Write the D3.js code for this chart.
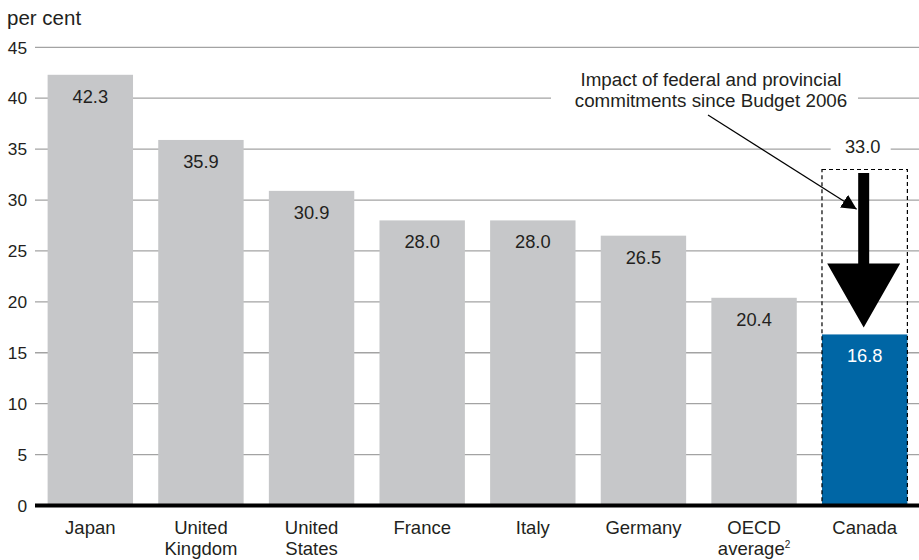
<!DOCTYPE html>
<html lang="en">
<head>
    <meta charset="UTF-8">
    <title>Per cent chart</title>
    <script src="https://d3js.org/d3.v7.min.js"></script>
    <style>
        body { margin: 0; background: #fff; }
        text { font-family: "Liberation Sans", Arial, Helvetica, sans-serif; fill: #231f20; }
        .grid line { stroke: #a3a3a3; stroke-width: 1.3px; }
        .tick-label { font-size: 17.3px; }
        .bar-label { font-size: 18.3px; text-anchor: middle; }
        .cat-label { font-size: 18.5px; text-anchor: middle; }
        .note { font-size: 18.8px; text-anchor: middle; }
    </style>
</head>
<body>
    <div id="chart"></div>
    <script>
        // data
        const countries = ["Japan", "United Kingdom", "United States", "France", "Italy", "Germany", "OECD average", "Canada"];
        const values = [42.3, 35.9, 30.9, 28.0, 28.0, 26.5, 20.4, 16.8];
        const labelLines = [["Japan"], ["United", "Kingdom"], ["United", "States"], ["France"], ["Italy"], ["Germany"], ["OECD", "average"], ["Canada"]];
        const yTicks = [0, 5, 10, 15, 20, 25, 30, 35, 40, 45];
        const canadaBefore = 33.0;   // level before the commitments
        const noteLines = ["Impact of federal and provincial", "commitments since Budget 2006"];

        const width = 919, height = 560;

        const svg = d3.select("#chart").append("svg")
            .attr("width", width)
            .attr("height", height);

        const x = d3.scaleBand()
            .domain(countries)
            .range([35, 920])
            .paddingInner(0.228)
            .paddingOuter(0.114);

        const y = d3.scaleLinear()
            .domain([0, 45])
            .range([505.5, 47.3]);

        // gridlines
        svg.append("g")
            .attr("class", "grid")
            .selectAll("line")
            .data(yTicks.filter(d => d > 0))
            .enter().append("line")
              .attr("x1", 35)
              .attr("x2", width)
              .attr("y1", d => y(d))
              .attr("y2", d => y(d));

        // y tick labels
        svg.append("g")
            .selectAll("text")
            .data(yTicks)
            .enter().append("text")
              .attr("class", "tick-label")
              .attr("x", 27)
              .attr("y", d => y(d))
              .attr("dy", "0.36em")
              .attr("text-anchor", "end")
              .text(d => d);

        svg.append("text")
            .attr("x", 7)
            .attr("y", 25)
            .style("font-size", "20.5px")
            .text("per cent");

        // white knock-outs behind annotation texts
        svg.append("rect")
            .attr("x", 551).attr("y", 66)
            .attr("width", 307).attr("height", 46)
            .attr("fill", "#fff");

        const cx = x("Canada") + x.bandwidth() / 2;
        svg.append("rect")
            .attr("x", cx - 34).attr("y", y(canadaBefore) - 32)
            .attr("width", 60).attr("height", 26)
            .attr("fill", "#fff");

        // bars
        svg.append("g")
            .selectAll("rect")
            .data(countries)
            .enter().append("rect")
              .attr("x", d => x(d))
              .attr("y", (d, i) => y(values[i]))
              .attr("width", x.bandwidth())
              .attr("height", (d, i) => y(0) - y(values[i]))
              .attr("fill", d => d === "Canada" ? "#0066a5" : "#c6c7c9");

        svg.append("g")
            .selectAll("text")
            .data(countries)
            .enter().append("text")
              .attr("class", "bar-label")
              .attr("x", d => x(d) + x.bandwidth() / 2)
              .attr("y", (d, i) => y(values[i]) + 28)
              .style("fill", d => d === "Canada" ? "#fff" : "#231f20")
              .text((d, i) => values[i].toFixed(1));

        // dashed box for the previous Canada level
        svg.append("rect")
            .attr("x", x("Canada"))
            .attr("y", y(canadaBefore))
            .attr("width", x.bandwidth())
            .attr("height", y(0) - y(canadaBefore))
            .attr("fill", "none")
            .attr("stroke", "#000")
            .attr("stroke-width", 1.2)
            .attr("stroke-dasharray", "4,3");

        svg.append("text")
            .attr("class", "bar-label")
            .attr("x", cx - 2)
            .attr("y", y(canadaBefore) - 16)
            .text(canadaBefore.toFixed(1));

        // big down arrow from 33.0 to 16.8
        const arrowTop = y(canadaBefore) + 3.5,
              arrowTip = y(values[7]) - 7,
              headLen = 64, shaftW = 5.5, headW = 36.5,
              ax = cx - 1;
        svg.append("path")
            .attr("d", d3.line()([
                [ax - shaftW, arrowTop], [ax + shaftW, arrowTop],
                [ax + shaftW, arrowTip - headLen], [ax + headW, arrowTip - headLen],
                [ax, arrowTip],
                [ax - headW, arrowTip - headLen], [ax - shaftW, arrowTip - headLen]
            ]) + "Z")
            .attr("fill", "#000");

        // baseline
        svg.append("line")
            .attr("x1", 35).attr("x2", width)
            .attr("y1", y(0)).attr("y2", y(0))
            .attr("stroke", "#000")
            .attr("stroke-width", 4);

        // annotation
        const note = svg.append("text")
            .attr("class", "note")
            .attr("x", 711)
            .attr("y", 86);
        note.selectAll("tspan")
            .data(noteLines)
            .enter().append("tspan")
              .attr("x", 711)
              .attr("dy", (d, i) => i === 0 ? 0 : 20.7)
              .text(d => d);

        svg.append("defs").append("marker")
            .attr("id", "head")
            .attr("viewBox", "0 0 10 10")
            .attr("refX", 10).attr("refY", 5)
            .attr("markerWidth", 15).attr("markerHeight", 15)
            .attr("markerUnits", "userSpaceOnUse")
            .attr("orient", "auto")
          .append("path")
            .attr("d", "M0,0L10,5L0,10Z")
            .attr("fill", "#000");

        svg.append("line")
            .attr("x1", 708).attr("y1", 115)
            .attr("x2", cx - 8).attr("y2", y(29.1))
            .attr("stroke", "#000")
            .attr("stroke-width", 1.2)
            .attr("marker-end", "url(#head)");

        // category labels
        const cats = svg.append("g");
        labelLines.forEach((lines, i) => {
            const t = cats.append("text")
                .attr("class", "cat-label")
                .attr("x", x(countries[i]) + x.bandwidth() / 2)
                .attr("y", 534);
            lines.forEach((line, j) => {
                t.append("tspan")
                    .attr("x", x(countries[i]) + x.bandwidth() / 2)
                    .attr("dy", j === 0 ? 0 : 21)
                    .text(line);
                if (countries[i] === "OECD average" && j === 1) {
                    t.append("tspan")
                        .attr("dy", -7)
                        .style("font-size", "10px")
                        .text("2");
                }
            });
        });
    </script>
</body>
</html>
